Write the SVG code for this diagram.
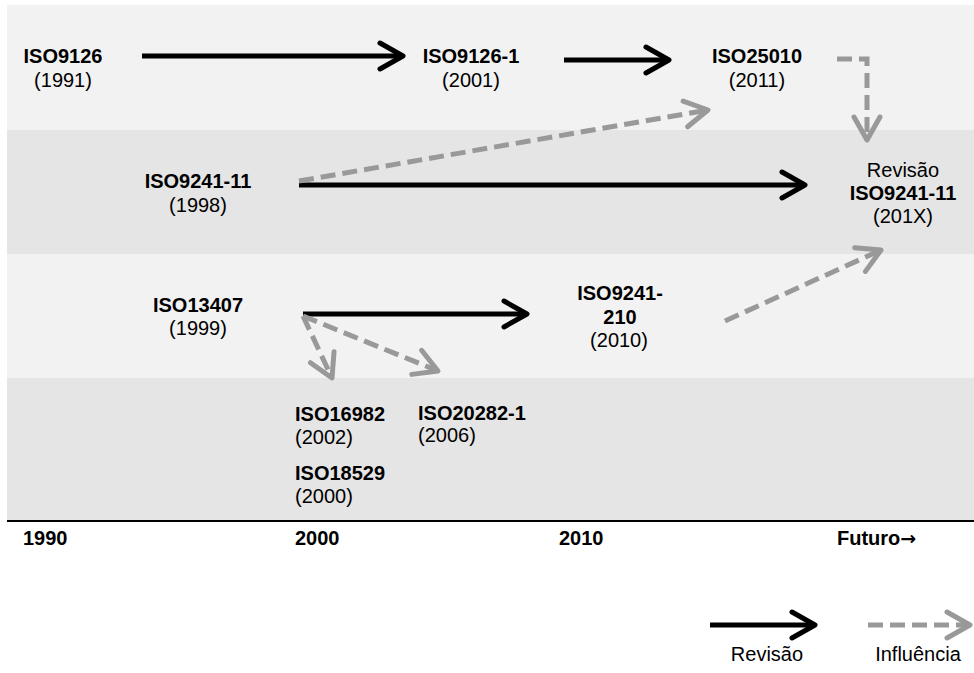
<svg xmlns="http://www.w3.org/2000/svg" width="974" height="673" viewBox="0 0 974 673">
<style>
text{font-family:"Liberation Sans",Arial,Helvetica,sans-serif;font-size:20px;fill:#000}
.b{font-weight:bold}
.c{text-anchor:middle}
.rev{stroke:#000;stroke-width:5;fill:none}
.inf{stroke:#999;stroke-width:5;fill:none;stroke-dasharray:15 7}
</style>
<defs>
<marker id="ah" markerUnits="userSpaceOnUse" viewBox="-30 -18 36 36" markerWidth="36" markerHeight="36" refX="0" refY="0" orient="auto" overflow="visible">
<path d="M-23,-13 L0,0 L-23,13" fill="none" stroke="#000" stroke-width="5" stroke-linecap="round" stroke-linejoin="round"/>
</marker>
<marker id="ahg" markerUnits="userSpaceOnUse" viewBox="-30 -18 36 36" markerWidth="36" markerHeight="36" refX="0" refY="0" orient="auto" overflow="visible">
<path d="M-23,-13 L0,0 L-23,13" fill="none" stroke="#999" stroke-width="5" stroke-linecap="round" stroke-linejoin="round" stroke-dasharray="none"/>
</marker>
</defs>
<rect width="974" height="673" fill="#fff"/>
<g id="bands">
<rect x="7" y="5" width="967" height="125" fill="#f2f2f2"/>
<rect x="7" y="130" width="967" height="124" fill="#e5e5e5"/>
<rect x="7" y="254" width="967" height="124" fill="#f2f2f2"/>
<rect x="7" y="378" width="967" height="143" fill="#e5e5e5"/>
<line x1="7" y1="521" x2="974" y2="521" stroke="#000" stroke-width="2"/>
</g>
<g id="axis">
<text x="23" y="545" class="b">1990</text>
<text x="295" y="545" class="b">2000</text>
<text x="559" y="545" class="b">2010</text>
<text x="837" y="545" class="b">Futuro<tspan font-family="'DejaVu Sans',sans-serif" font-size="19">→</tspan></text>
</g>
<g id="connectors">
<line class="rev" x1="142" y1="56" x2="403" y2="56" marker-end="url(#ah)"/>
<line class="rev" x1="564" y1="60" x2="669" y2="60" marker-end="url(#ah)"/>
<line class="rev" x1="299" y1="185" x2="805" y2="185" marker-end="url(#ah)"/>
<line class="rev" x1="303" y1="314" x2="527" y2="314" marker-end="url(#ah)"/>
<line class="inf" x1="299" y1="181" x2="708" y2="110" marker-end="url(#ahg)"/>
<path class="inf" d="M837,59 H867 V140" marker-end="url(#ahg)"/>
<line class="inf" x1="725" y1="321" x2="881" y2="250" marker-end="url(#ahg)"/>
<line class="inf" x1="303" y1="316" x2="332" y2="378" marker-end="url(#ahg)"/>
<line class="inf" x1="303" y1="316" x2="438" y2="371" marker-end="url(#ahg)"/>
</g>
<g id="iso9126"><text x="63" y="63" class="b c">ISO9126</text><text x="63" y="87" class="c">(1991)</text></g>
<g id="iso9126-1"><text x="471" y="63" class="b c">ISO9126-1</text><text x="471" y="87" class="c">(2001)</text></g>
<g id="iso25010"><text x="757" y="63" class="b c">ISO25010</text><text x="757" y="87" class="c">(2011)</text></g>
<g id="iso9241-11"><text x="198" y="188" class="b c">ISO9241-11</text><text x="198" y="212" class="c">(1998)</text></g>
<g id="revisao-iso9241-11"><text x="903" y="177" class="c">Revisão</text><text x="903" y="200" class="b c">ISO9241-11</text><text x="903" y="223" class="c">(201X)</text></g>
<g id="iso13407"><text x="198" y="312" class="b c">ISO13407</text><text x="198" y="335" class="c">(1999)</text></g>
<g id="iso9241-210"><text x="620" y="300" class="b c">ISO9241-</text><text x="620" y="324" class="b c">210</text><text x="619" y="347" class="c">(2010)</text></g>
<g id="iso16982"><text x="295" y="421" class="b">ISO16982</text><text x="295" y="444">(2002)</text></g>
<g id="iso18529"><text x="295" y="480" class="b">ISO18529</text><text x="295" y="503">(2000)</text></g>
<g id="iso20282-1"><text x="418" y="420" class="b">ISO20282-1</text><text x="418" y="442">(2006)</text></g>
<g id="legend">
<line class="rev" x1="710" y1="625" x2="815" y2="625" marker-end="url(#ah)"/>
<line class="inf" x1="868" y1="625" x2="970" y2="625" marker-end="url(#ahg)"/>
<text x="767" y="661" class="c">Revisão</text>
<text x="918" y="661" class="c">Influência</text>
</g>
</svg>
